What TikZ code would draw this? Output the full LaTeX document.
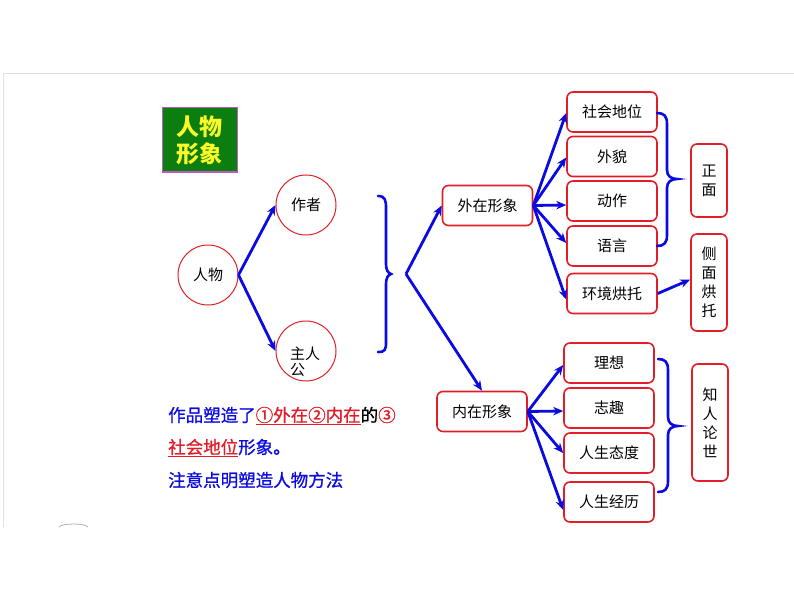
\documentclass[tikz,border=0pt]{standalone}
\usepackage{fontspec}
\setmainfont{Noto Sans CJK SC}
\newfontfamily\cjkmed{Noto Sans CJK SC}[FakeBold=0.9]
\usetikzlibrary{arrows.meta,calc}
\definecolor{bl}{RGB}{10,10,225}
\definecolor{rd}{RGB}{225,30,40}
\definecolor{gr}{RGB}{12,125,15}
\definecolor{yl}{RGB}{250,250,40}
\definecolor{mg}{RGB}{190,90,190}
\begin{document}
\begin{tikzpicture}[x=1pt,y=-1pt,
 circ/.style={circle,draw=rd,line width=1pt,minimum size=60pt,inner sep=0pt,font=\fontsize{15}{16}\selectfont},
 rbox/.style={rectangle,rounded corners=6pt,draw=rd,line width=1.6pt,minimum width=90pt,minimum height=40pt,inner sep=0pt,font=\fontsize{15}{18}\selectfont},
 vbox/.style={rbox,minimum width=36pt,align=center,font=\fontsize{15}{19}\selectfont},
 arr/.style={draw=bl,line width=2.8pt,-{Stealth[length=10pt,width=8.5pt]}},
 brc/.style={draw=bl,line width=2.6pt,line cap=round},
 txt/.style={anchor=west,inner sep=0pt,font=\cjkmed\fontsize{17.5}{20}\selectfont},
]
\useasboundingbox (0,0) rectangle (794,596);
\fill[white] (0,0) rectangle (794,596);
% faint slide frame
\draw[black!12,line width=1pt] (3,527) -- (3,74) -- (794,74);
\draw[black!30,line width=0.8pt] (59,527) .. controls (62,523) and (85,523) .. (88,527);

% title
\node[fill=gr,draw=mg,line width=1pt,minimum width=75pt,minimum height=64pt,inner sep=0pt,align=center,text=yl,font=\fontsize{23}{27}\selectfont\bfseries] (title) at (199.5,140) {人物\\形象};

% circles
\node[circ] (renwu) at (208,275) {人物};
\node[circ] (zuozhe) at (306,205) {作者};
\node[circ] (zhu) at (306,351) {};
\node[inner sep=0pt,align=left,font=\fontsize{15}{16}\selectfont] (zhut) at (305,362) {主人\\公};
\draw[arr] (renwu.east) -- (zuozhe.west);
\draw[arr] (renwu.east) -- (zhu.west);

% big brace
\draw[brc] (378,196) .. controls (385,196) and (386,200) .. (386,208) -- (386,264) .. controls (386,270) and (388,273) .. (391,274) .. controls (388,275) and (386,278) .. (386,284) -- (386,342) .. controls (386,350) and (385,352) .. (378,352);
\coordinate (bt) at (406,274);

% middle boxes
\node[rbox] (waizai) at (487.5,205.5) {外在形象};
\node[rbox] (neizai) at (482,411.5) {内在形象};
\draw[arr] (bt) -- (waizai.west);
\draw[arr] (bt) -- (neizai.north);

% outer image boxes
\node[rbox] (shehui) at (612,112) {社会地位};
\node[rbox] (waimao) at (612,156.5) {外貌};
\node[rbox] (dongzuo) at (612,201) {动作};
\node[rbox] (yuyan) at (612,246) {语言};
\node[rbox] (huanjing) at (612,293.5) {环境烘托};
\draw[arr] (waizai.east) -- ([yshift=-1pt]shehui.west);
\draw[arr] (waizai.east) -- ([yshift=-1pt]waimao.west);
\draw[arr] (waizai.east) -- ([yshift=-4pt]dongzuo.west);
\draw[arr] (waizai.east) -- ([yshift=3pt]yuyan.west);
\draw[arr] (waizai.east) -- ([yshift=-6pt]huanjing.west);

% inner image boxes
\node[rbox] (lixiang) at (609,363) {理想};
\node[rbox] (zhiqu) at (609,408) {志趣};
\node[rbox] (taidu) at (609,453) {人生态度};
\node[rbox] (jingli) at (609,502) {人生经历};
\draw[arr] (neizai.east) -- ([yshift=-2pt]lixiang.west);
\draw[arr] (neizai.east) -- ([yshift=-3pt]zhiqu.west);
\draw[arr] (neizai.east) -- (taidu.west);
\draw[arr] (neizai.east) -- ([yshift=-8pt]jingli.west);

% vertical boxes
\node[vbox,minimum height=73pt] (zhengmian) at (709,180.5) {正\\面};
\node[vbox,minimum height=97pt] (cemian) at (709,282.5) {侧\\面\\烘\\托};
\node[vbox,minimum height=117pt] (zhiren) at (710,422.5) {知\\人\\论\\世};
\draw[arr] (huanjing.east) -- ([yshift=3pt]cemian.west);

% small braces
\draw[brc] (657,113) .. controls (664,113) and (667,116) .. (667,124) -- (667,170) .. controls (667,176) and (671,179) .. (677,179) .. controls (671,179) and (667,182) .. (667,188) -- (667,235) .. controls (667,243) and (664,246) .. (657,246);
\draw[brc] (658,359) .. controls (665,359) and (668,362) .. (668,370) -- (668,417) .. controls (668,423) and (672,426) .. (678,426) .. controls (672,426) and (668,429) .. (668,435) -- (668,481) .. controls (668,489) and (665,492) .. (658,492);

% left text
\node[txt] (t1) at (168,416) {\textcolor{bl}{作品塑造了}\textcolor{rd}{\underline{①外在②内在}}的\textcolor{rd}{③}};
\node[txt] (t2) at (168,448) {\textcolor{rd}{\underline{社会地位}}\textcolor{bl}{形象。}};
\node[txt] (t3) at (168,480) {\textcolor{bl}{注意点明塑造人物方法}};
\end{tikzpicture}
\end{document}
